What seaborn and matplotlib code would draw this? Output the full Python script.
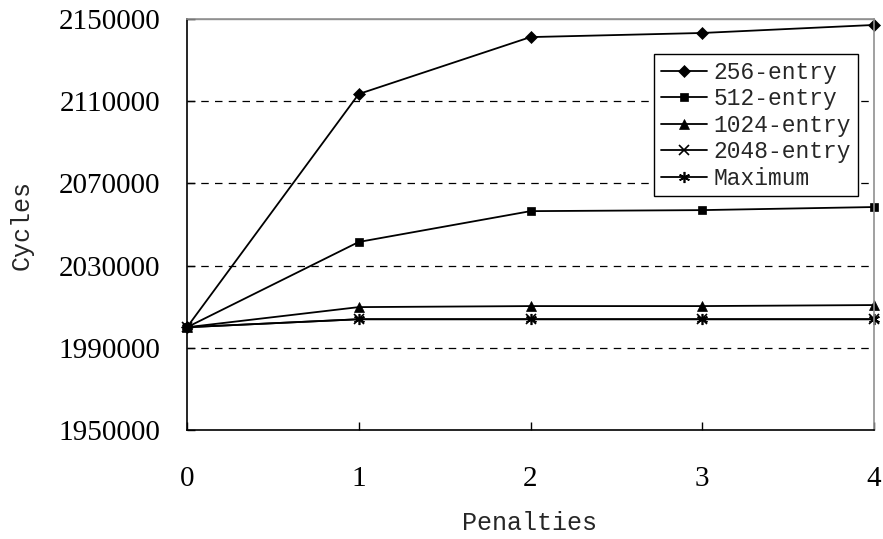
import matplotlib
matplotlib.use("Agg")
import matplotlib.pyplot as plt
import seaborn as sns
import pandas as pd

penalties = [0, 1, 2, 3, 4]
series_names = ["256-entry", "512-entry", "1024-entry", "2048-entry", "Maximum"]
entry_256 = [2000000, 2113500, 2141200, 2143200, 2147100]
entry_512 = [2000000, 2041500, 2056500, 2057000, 2058500]
entry_1024 = [2000000, 2009800, 2010300, 2010300, 2010800]
entry_2048 = [2000000, 2003900, 2003900, 2003900, 2003900]
maximum = [2000000, 2003900, 2003900, 2003900, 2003900]
y_ticks = [1950000, 1990000, 2030000, 2070000, 2110000, 2150000]
x_ticks = [0, 1, 2, 3, 4]

rows = []
for name, vals in zip(series_names, [entry_256, entry_512, entry_1024, entry_2048, maximum]):
    for p, v in zip(penalties, vals):
        rows.append({"Penalties": p, "Cycles": v, "series": name})
df = pd.DataFrame(rows)

sns.set_theme(style="white")
plt.rcParams['font.family'] = ['Liberation Serif', 'DejaVu Sans']

fig = plt.figure(figsize=(8.83, 5.39), dpi=100)
ax = fig.add_axes([187/883, 109/539, 687/883, 411/539])

markers = {"256-entry": "D", "512-entry": "s", "1024-entry": "^",
           "2048-entry": "x", "Maximum": (6, 2, 0)}
msizes = {"256-entry": 6, "512-entry": 6, "1024-entry": 7, "2048-entry": 7, "Maximum": 8}

# gridlines
for t in y_ticks[1:-1]:
    ax.axhline(t, color="black", linestyle=(0, (6, 5)), linewidth=0.9, zorder=0)
ax.axhline(y_ticks[-1], color="#909090", linewidth=1.0, zorder=0)

for name in series_names:
    sub = df[df["series"] == name]
    sns.lineplot(data=sub, x="Penalties", y="Cycles", ax=ax, color="black",
                 marker=markers[name], markersize=msizes[name],
                 markeredgecolor="black", markerfacecolor="black",
                 markeredgewidth=1.2 if name in ("2048-entry", "Maximum") else 0.5,
                 linewidth=1.3, label=name, clip_on=False)

ax.set_xlim(0, 4)
ax.set_ylim(1950000, 2150000)
ax.set_xticks(x_ticks)
ax.set_yticks(y_ticks)
ax.set_yticklabels([str(t) for t in y_ticks])
ax.set_xticklabels([str(t) for t in x_ticks])
ax.tick_params(axis="both", direction="in", length=6, width=1, colors="black",
               labelsize=21)
ax.tick_params(axis="y", left=True, pad=19)
ax.tick_params(axis="x", bottom=True, pad=26)

for side in ["left", "bottom"]:
    ax.spines[side].set_color("black")
    ax.spines[side].set_linewidth(1.2)
for side in ["top", "right"]:
    ax.spines[side].set_color("#909090")
    ax.spines[side].set_linewidth(1.2)

ax.set_xlabel("Penalties", fontsize=18, family=["Liberation Mono"], va="center")
ax.set_ylabel("Cycles", fontsize=18, family=["Liberation Mono"], va="center")
ax.xaxis.set_label_coords((530 - 187) / 687, (430 - 523) / 411)
ax.yaxis.set_label_coords((22 - 187) / 687, (430 - 225) / 411)

handles, labels = ax.get_legend_handles_labels()
leg = ax.legend(handles, labels, loc="upper right", bbox_to_anchor=(0.977, 0.915),
                prop={"family": "Liberation Mono", "size": 16.5},
                frameon=True, fancybox=False, framealpha=1, edgecolor="black",
                handlelength=2.0, handletextpad=0.3, borderpad=0.3,
                labelspacing=0.15, borderaxespad=0)
leg.get_frame().set_linewidth(1.0)

fig.savefig("out.png", dpi=100)
